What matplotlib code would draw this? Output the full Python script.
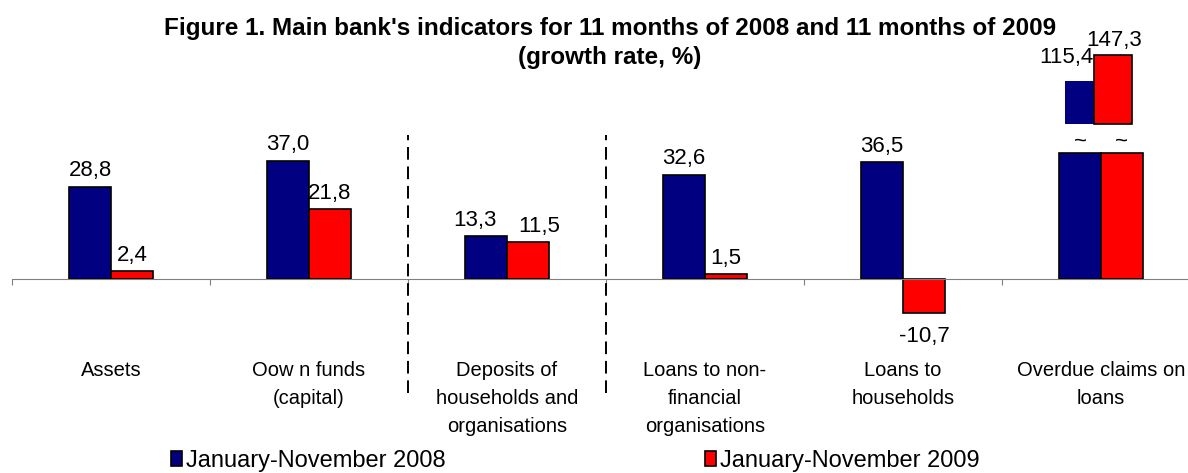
import numpy as np
import matplotlib.pyplot as plt

# growth rate, %, for each indicator
categories = ['Assets', 'Oow n funds\n(capital)', 'Deposits of\nhouseholds and\norganisations',
              'Loans to non-\nfinancial\norganisations', 'Loans to\nhouseholds',
              'Overdue claims on\nloans']
growth_2008 = [28.8, 37.0, 13.3, 32.6, 36.5, 115.4]
growth_2009 = [2.4, 21.8, 11.5, 1.5, -10.7, 147.3]
series_names = ['January-November 2008', 'January-November 2009']
title_lines = ["Figure 1. Main bank's indicators for 11 months of 2008 and 11 months of 2009",
               "(growth rate, %)"]

plt.rcParams['font.family'] = ['Liberation Sans', 'DejaVu Sans']

blue = '#000080'
red = '#FF0000'

# bars taller than `cap` are cut; the real value is shown as a stub above the break
cap = 39.4
break_base = 48.4
break_from = 61.4
break_scale = 0.251

px = 3.2  # pixels per percentage point
fig = plt.figure(figsize=(11.88, 4.73), dpi=100)
ax = fig.add_axes([12 / 1188, 0, 1, 1])
ax.set_xlim(-0.5, 5.5)
ax.set_ylim(-(473 - 279) / px, 279 / px)

x = np.arange(len(categories))
w = 0.212
h08 = [min(v, cap) for v in growth_2008]
h09 = [min(v, cap) for v in growth_2009]
b1 = ax.bar(x - w / 2, h08, w, color=blue, edgecolor='black', linewidth=1.2)
b2 = ax.bar(x + w / 2, h09, w, color=red, edgecolor='black', linewidth=1.2)


def fmt(v):
    return f'{v:.1f}'.replace('.', ',')


val_fs = 16
for i, (v1, v2) in enumerate(zip(growth_2008, growth_2009)):
    if v1 > cap or v2 > cap:
        continue
    # push the two labels apart when the bars are almost the same height
    nudge = 8 if abs(v1 - v2) < 5 else 0
    for xi, v, dx in ((i - w / 2, v1, -nudge), (i + w / 2, v2, nudge)):
        if v >= 0:
            ax.annotate(fmt(v), (xi, v), xytext=(dx, 4), textcoords='offset points',
                        ha='center', va='bottom', fontsize=val_fs)
        else:
            ax.annotate(fmt(v), (xi, v), xytext=(dx, -9), textcoords='offset points',
                        ha='center', va='top', fontsize=val_fs)

# break marks and stubs for the cut bars
for i, (v1, v2) in enumerate(zip(growth_2008, growth_2009)):
    if v1 <= cap and v2 <= cap:
        continue
    ax.text(i - w / 2, 43.0, '~', ha='center', va='center', fontsize=val_fs)
    ax.text(i + w / 2, 43.0, '~', ha='center', va='center', fontsize=val_fs)
    t1 = break_base + (v1 - break_from) * break_scale
    t2 = break_base + (v2 - break_from) * break_scale
    ax.bar(i - 0.182, t1 - break_base, 0.146, bottom=break_base, align='edge',
           color=blue, linewidth=0)
    ax.bar(i - 0.035, t2 - break_base, 0.192, bottom=break_base, align='edge',
           color=red, edgecolor='black', linewidth=1.2)
    ax.annotate(fmt(v1), (i - 0.036, t1), xytext=(0, 9),
                textcoords='offset points', ha='right', va='bottom', fontsize=val_fs)
    ax.annotate(fmt(v2), (i + 0.065, t2), xytext=(0, 3),
                textcoords='offset points', ha='center', va='bottom', fontsize=val_fs)

# group separators
ax.vlines([1.5, 2.5], (279 - 393) / px, (279 - 135) / px, colors='black',
          linestyles=(0, (6.5, 3.5)), linewidth=1.4)

for i, cat in enumerate(categories):
    ax.text(i, (279 - 361) / px, cat, ha='center', va='top', fontsize=14.5,
            linespacing=1.6)

for s in ('top', 'right', 'left'):
    ax.spines[s].set_visible(False)
ax.spines['bottom'].set_position(('data', 0))
ax.spines['bottom'].set_color('#808080')
ax.set_xticks(np.arange(-0.5, 6, 1))
ax.set_xticklabels([])
ax.tick_params(axis='x', length=4, color='#808080')
ax.set_yticks([])
ax.patch.set_visible(False)

# title, one text per line
for line, base in zip(title_lines, (35, 64)):
    fig.text(610 / 1188, 1 - base / 473, line, ha='center', va='baseline',
             fontsize=17.5, fontweight='bold')

fig.legend(handles=[b1, b2], labels=series_names, loc='lower left',
           bbox_to_anchor=(171 / 1188, 0.003), ncol=2, frameon=False, fontsize=17,
           handlelength=0.47, handleheight=0.6, handletextpad=0.15, columnspacing=11,
           borderpad=0, borderaxespad=0)

fig.savefig('out.png', dpi=100)
